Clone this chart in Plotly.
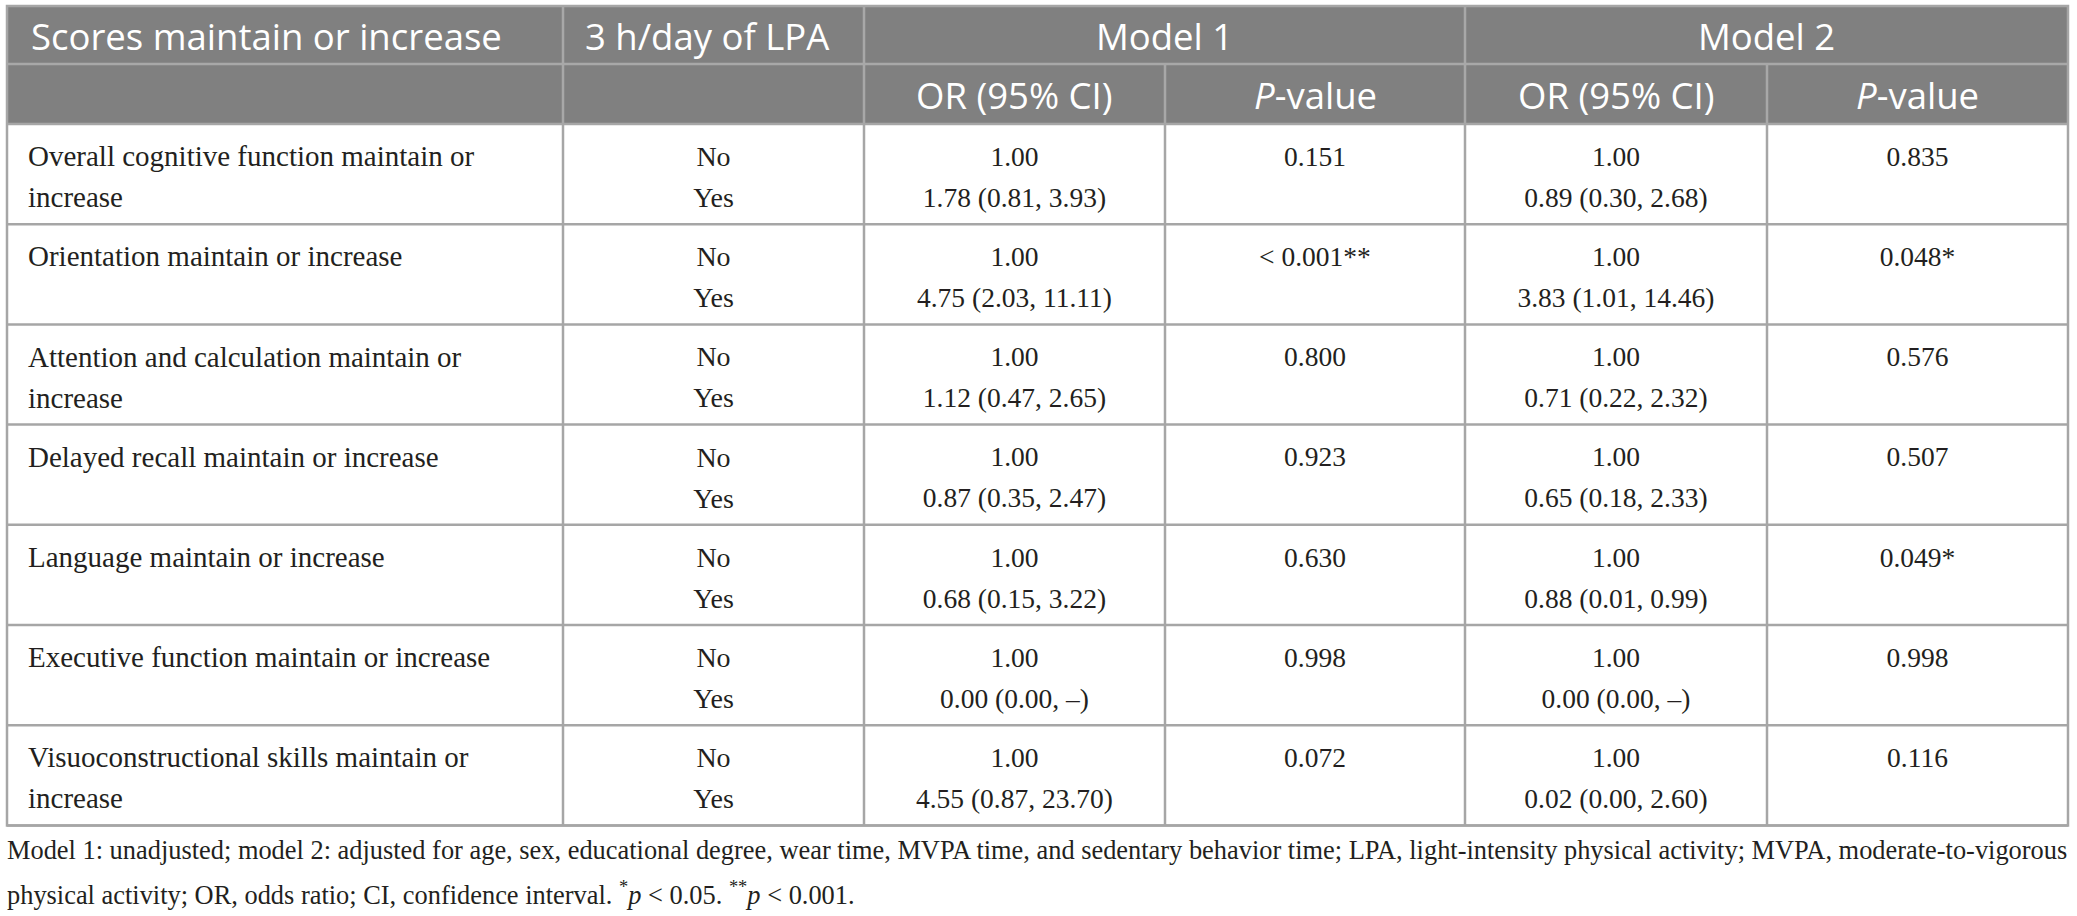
import plotly.graph_objects as go

# table content
labels = [
    "Overall cognitive function maintain or<br>increase",
    "Orientation maintain or increase",
    "Attention and calculation maintain or<br>increase",
    "Delayed recall maintain or increase",
    "Language maintain or increase",
    "Executive function maintain or increase",
    "Visuoconstructional skills maintain or<br>increase",
]
lpa_levels = ["No", "Yes"]
ref_or = "1.00"
or_model1 = ["1.78 (0.81, 3.93)", "4.75 (2.03, 11.11)", "1.12 (0.47, 2.65)", "0.87 (0.35, 2.47)",
             "0.68 (0.15, 3.22)", "0.00 (0.00, \u2013)", "4.55 (0.87, 23.70)"]
p_model1 = ["0.151", "< 0.001**", "0.800", "0.923", "0.630", "0.998", "0.072"]
or_model2 = ["0.89 (0.30, 2.68)", "3.83 (1.01, 14.46)", "0.71 (0.22, 2.32)", "0.65 (0.18, 2.33)",
             "0.88 (0.01, 0.99)", "0.00 (0.00, \u2013)", "0.02 (0.00, 2.60)"]
p_model2 = ["0.835", "0.048*", "0.576", "0.507", "0.049*", "0.998", "0.116"]

header_top = ["Scores maintain or increase", "3 h/day of LPA", "Model 1", "Model 2"]
header_sub = ["OR (95% CI)", "<i>P</i>-value", "OR (95% CI)", "<i>P</i>-value"]
footnote_lines = [
    "Model 1: unadjusted; model 2: adjusted for age, sex, educational degree, wear time, MVPA time, "
    "and sedentary behavior time; LPA, light-intensity physical activity; MVPA, moderate-to-vigorous",
    "physical activity; OR, odds ratio; CI, confidence interval. <sup>*</sup><i>p</i> &lt; 0.05. "
    "<sup>**</sup><i>p</i> &lt; 0.001.",
]

# geometry (pixels)
W, H = 2077, 916
col_edges = [7, 563, 864, 1165, 1465, 1767, 2068]
top, head_mid, body_top, row_h = 6, 64, 124, 100.2
n_rows = len(labels)
bottom = body_top + row_h * n_rows
line1, line2 = 35, 76

HEAD_BG = "#808080"
HEAD_LINE = "#a8a8a8"
GRID = "#a6a6a6"
TXT = "#231f20"
SERIF = "Liberation Serif"
SANS = "Open Sans"

centers = [(col_edges[i] + col_edges[i + 1]) / 2 for i in range(6)]

fig = go.Figure()

shapes = []
# header background
shapes.append(dict(type="rect", x0=col_edges[0], x1=col_edges[-1], y0=top, y1=body_top,
                   fillcolor=HEAD_BG, line=dict(width=0), layer="below"))
# header lines
shapes.append(dict(type="line", x0=col_edges[0], x1=col_edges[-1], y0=head_mid, y1=head_mid,
                   line=dict(color=HEAD_LINE, width=2.5)))
for i, e in enumerate(col_edges[1:-1], start=1):
    y0 = head_mid if i in (3, 5) else top
    shapes.append(dict(type="line", x0=e, x1=e, y0=y0, y1=body_top, line=dict(color=HEAD_LINE, width=2.5)))
# body lines
for r in range(n_rows + 1):
    y = body_top + row_h * r
    shapes.append(dict(type="line", x0=col_edges[0], x1=col_edges[-1], y0=y, y1=y,
                       line=dict(color=GRID, width=2.5)))
for e in col_edges[1:-1]:
    shapes.append(dict(type="line", x0=e, x1=e, y0=body_top, y1=bottom, line=dict(color=GRID, width=2.5)))
# outer border
shapes.append(dict(type="rect", x0=col_edges[0], x1=col_edges[-1], y0=top, y1=bottom,
                   line=dict(color=GRID, width=2.5)))

row_tops = [body_top + row_h * r for r in range(n_rows)]


def add_text(xs, ys, texts, pos="middle center", size=28):
    fig.add_trace(go.Scatter(x=xs, y=ys, text=texts, mode="text", textposition=pos,
                             textfont=dict(family=SERIF, size=size, color=TXT),
                             hoverinfo="skip", showlegend=False))


# first column, one entry per wrapped line
lx, ly, lt = [], [], []
for t, lab in zip(row_tops, labels):
    for k, part in enumerate(lab.split("<br>")):
        lx.append(col_edges[0] + 21)
        ly.append(t + (line1 if k == 0 else line2))
        lt.append(part)
add_text(lx, ly, lt, "middle right", size=29)

# No / Yes
add_text([centers[1]] * (2 * n_rows),
         [t + off for t in row_tops for off in (line1, line2)],
         [lv for _ in row_tops for lv in lpa_levels])

# OR columns
for ci, ors in ((2, or_model1), (4, or_model2)):
    add_text([centers[ci]] * (2 * n_rows),
             [t + off for t in row_tops for off in (line1, line2)],
             [v for o in ors for v in (ref_or, o)], size=27.5)

# P columns
for ci, ps in ((3, p_model1), (5, p_model2)):
    add_text([centers[ci]] * n_rows, [t + line1 for t in row_tops], ps, size=27.5)

annotations = []
hfont = dict(family=SANS, size=36.5, color="white")
hy = (top + head_mid) / 2 + 1
sy = (head_mid + body_top) / 2 + 1
annotations.append(dict(x=col_edges[0] + 22, y=hy, text=header_top[0], xanchor="left", yanchor="middle",
                        showarrow=False, font=hfont))
annotations.append(dict(x=col_edges[1] + 20, y=hy, text=header_top[1], xanchor="left", yanchor="middle",
                        showarrow=False, font=hfont))
annotations.append(dict(x=(col_edges[2] + col_edges[4]) / 2, y=hy, text=header_top[2], xanchor="center",
                        yanchor="middle", showarrow=False, font=hfont))
annotations.append(dict(x=(col_edges[4] + col_edges[6]) / 2, y=hy, text=header_top[3], xanchor="center",
                        yanchor="middle", showarrow=False, font=hfont))
for ci, txt in zip((2, 3, 4, 5), header_sub):
    annotations.append(dict(x=centers[ci], y=sy, text=txt, xanchor="center", yanchor="middle",
                            showarrow=False, font=hfont))
for k, txt in enumerate(footnote_lines):
    annotations.append(dict(x=col_edges[0] - 2, y=850 + 43 * k, text=txt, xanchor="left", yanchor="middle",
                            align="left", showarrow=False,
                            font=dict(family=SERIF, size=26.4, color=TXT)))

fig.update_layout(
    width=W, height=H,
    margin=dict(l=0, r=0, t=0, b=0),
    paper_bgcolor="white", plot_bgcolor="white",
    xaxis=dict(range=[0, W], visible=False, fixedrange=True),
    yaxis=dict(range=[H, 0], visible=False, fixedrange=True),
    shapes=shapes,
    annotations=annotations,
)

fig.write_html("out.html", config={"displayModeBar": False},
               post_script="document.body.style.margin='0';document.body.style.overflow='hidden';")
